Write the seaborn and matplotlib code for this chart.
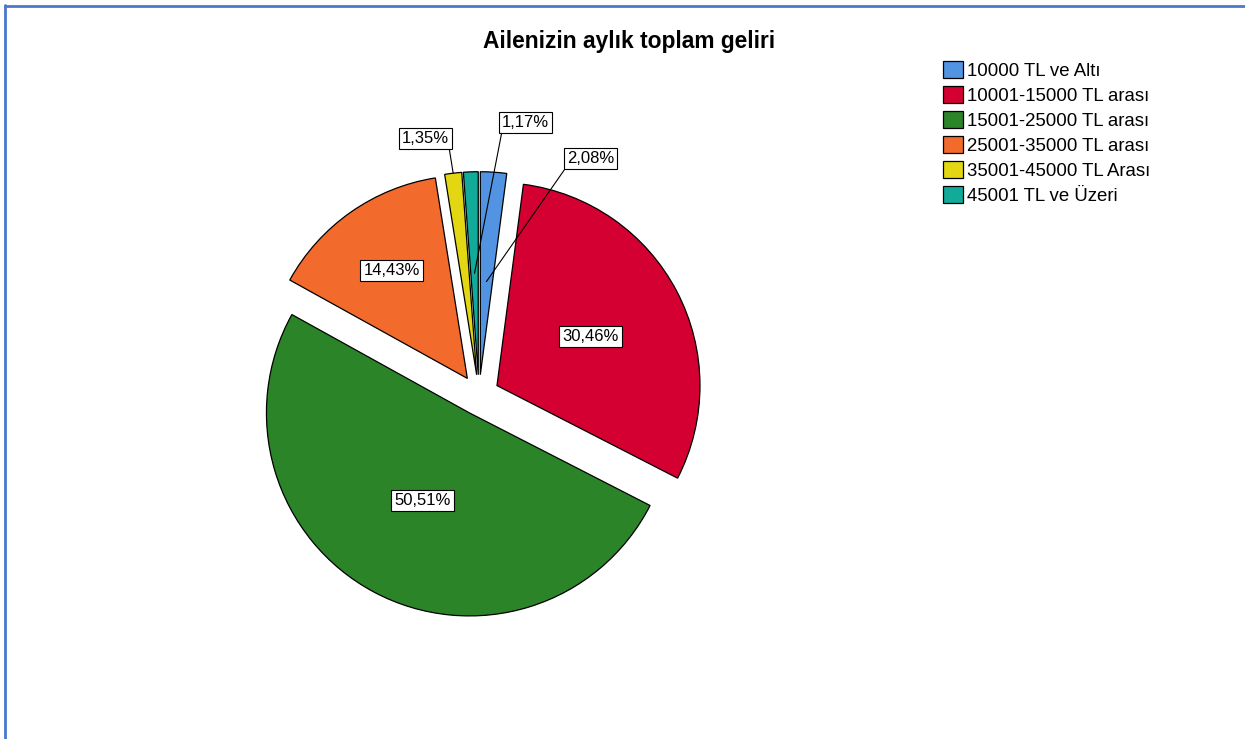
import numpy as np
import matplotlib.pyplot as plt
import seaborn as sns
from matplotlib.lines import Line2D

# data
categories = ["10000 TL ve Altı", "10001-15000 TL arası", "15001-25000 TL arası",
              "25001-35000 TL arası", "35001-45000 TL Arası", "45001 TL ve Üzeri"]
percentages = [2.08, 30.46, 50.51, 14.43, 1.35, 1.17]
pct_labels = ["2,08%", "30,46%", "50,51%", "14,43%", "1,35%", "1,17%"]
slice_colors = ["#5294E2", "#D40032", "#2B8428", "#F26A2C", "#E3D612", "#12AA99"]
chart_title = "Ailenizin aylık toplam geliri"

sns.set_theme(style="white")
plt.rcParams["font.family"] = ["Liberation Sans", "DejaVu Sans"]
plt.rcParams["text.color"] = "black"

W, H = 1245, 739
fig = plt.figure(figsize=(W / 100, H / 100), dpi=100)

# pie centre / radius in pixels
cx, cy, R = 479, 395, 203
ax = fig.add_axes([(cx - 1.25 * R) / W, (H - cy - 1.25 * R) / H, 2.5 * R / W, 2.5 * R / H])

palette = sns.color_palette(slice_colors)
wedges, _ = ax.pie(percentages, colors=palette, startangle=90, counterclock=False,
                   explode=[0.1] * len(percentages),
                   wedgeprops=dict(edgecolor="black", linewidth=0.9))

box = dict(boxstyle="square,pad=0.18", fc="white", ec="black", lw=0.8)

# labels inside the big slices (distance from the slice apex)
inner_r = {1: 0.52, 2: 0.49, 3: 0.65}
# call-out labels for the thin slices: text pos, leader end radius, leader start corner
callouts = {0: ((0.55, 1.165), 0.46, (0, 0)),
            5: ((0.23, 1.34), 0.50, (0, 0)),
            4: ((-0.265, 1.265), 1.0, (1, 0))}

for i, w in enumerate(wedges):
    mid = np.deg2rad((w.theta1 + w.theta2) / 2)
    x0, y0 = w.center
    if i in inner_r:
        r = inner_r[i]
        ax.text(x0 + r * np.cos(mid), y0 + r * np.sin(mid), pct_labels[i],
                ha="center", va="center", fontsize=12, bbox=box)
    else:
        txt, r, corner = callouts[i]
        ax.annotate(pct_labels[i], xy=(x0 + r * np.cos(mid), y0 + r * np.sin(mid)),
                    xytext=txt, ha="center", va="center", fontsize=12, bbox=box,
                    arrowprops=dict(arrowstyle="-", color="black", lw=0.8,
                                    relpos=corner, shrinkA=0, shrinkB=0))

fig.text(0.505, 1 - 48 / H, chart_title, ha="center", va="baseline",
         fontsize=16.4, fontweight="bold")

fig.legend(wedges, categories, loc="upper left", bbox_to_anchor=(943 / W, 1 - 61 / H),
           frameon=False, fontsize=13.4, handlelength=1.08, handleheight=1.05,
           handletextpad=0.22, labelspacing=0.32, borderpad=0, borderaxespad=0)

# blue frame of the SPSS output window
fig.add_artist(Line2D([5.5 / W, 5.5 / W], [0, 1 - 5 / H], transform=fig.transFigure,
                      color="#4A78CC", lw=2))
fig.add_artist(Line2D([5 / W, 1], [1 - 5.5 / H, 1 - 5.5 / H], transform=fig.transFigure,
                      color="#4A78CC", lw=2))

fig.savefig("out.png", dpi=100)
